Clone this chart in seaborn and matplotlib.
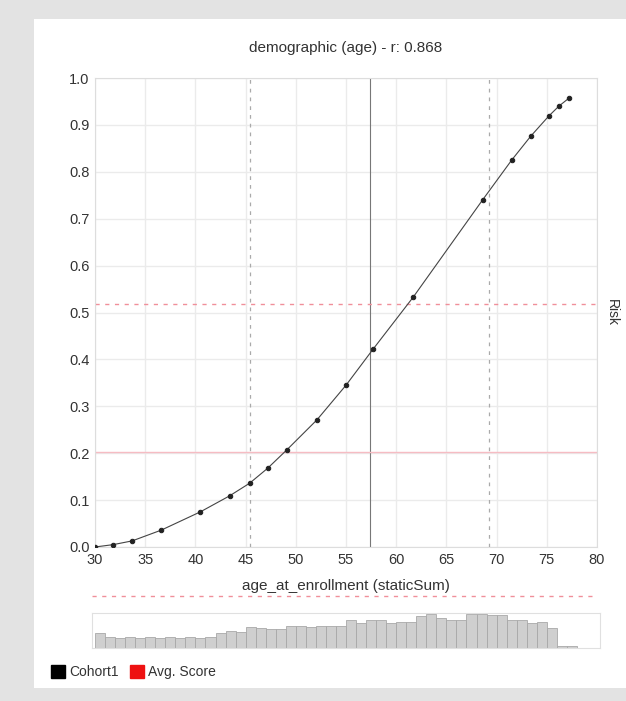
import numpy as np
import pandas as pd
import seaborn as sns
import matplotlib.pyplot as plt
from matplotlib.patches import Patch, Rectangle

# curve points
age = [30.0, 31.8, 33.7, 36.6, 40.5, 43.4, 45.4, 47.2, 49.1, 52.1,
       55.0, 57.7, 61.7, 68.6, 71.5, 73.4, 75.2, 76.2, 77.2]
risk = [0.0, 0.005, 0.013, 0.036, 0.075, 0.109, 0.136, 0.168, 0.207, 0.271,
        0.345, 0.422, 0.533, 0.740, 0.825, 0.876, 0.919, 0.940, 0.957]

# enrolment histogram, one bin per year of age (30..77)
hist_age = list(range(30, 78))
hist_count = [44, 31, 30, 31, 30, 31, 30, 31, 30, 31, 30, 31,
              44, 51, 48, 62, 60, 57, 55, 64, 64, 63, 64, 64, 64,
              83, 74, 83, 83, 74, 78, 78, 93, 100, 89, 83, 83, 100, 100,
              97, 97, 83, 83, 74, 78, 59, 5, 5]

# reference lines
cohort_lo, cohort_mid, cohort_hi = 45.4, 57.4, 69.2
avg_score_dotted, avg_score_solid = 0.518, 0.203

title = "demographic (age) - r: 0.868"
x_label = "age_at_enrollment (staticSum)"
legend_labels = ["Cohort1", "Avg. Score"]

df = pd.DataFrame({"age": age, "risk": risk})
hist_df = pd.DataFrame({"age": [a + 0.5 for a in hist_age], "count": hist_count})

sns.set_theme(style="white")
plt.rcParams["font.family"] = ["Liberation Sans", "DejaVu Sans"]

fig = plt.figure(figsize=(6.26, 7.01), dpi=100)
fig.patch.set_facecolor("#e3e3e3")
fig.add_artist(Rectangle((0.054, 0.0185), 0.946, 0.955, transform=fig.transFigure,
                         facecolor="white", edgecolor="none", zorder=-1))

ax = fig.add_axes([0.1518, 0.2197, 0.8019, 0.669])
ax.set_facecolor("white")

sns.lineplot(data=df, x="age", y="risk", ax=ax, color="#444444", linewidth=0.8,
             marker="o", markersize=3.2, markeredgecolor="#222222",
             markerfacecolor="#222222", zorder=5)

ax.axvline(cohort_lo, color="#aaaaaa", linestyle=(0, (3, 4)), linewidth=0.9)
ax.axvline(cohort_hi, color="#aaaaaa", linestyle=(0, (3, 4)), linewidth=0.9)
ax.axvline(cohort_mid, color="#777777", linewidth=0.8)
ax.axhline(avg_score_dotted, color="#f08f9a", linestyle=(0, (3, 4)), linewidth=1.0)
ax.axhline(avg_score_solid, color="#f6bcc3", linewidth=1.0)

ax.set_xlim(30, 80)
ax.set_ylim(0, 1.0)
ax.set_xticks(np.arange(30, 81, 5))
ax.set_yticks(np.arange(0, 1.01, 0.1))
ax.set_yticklabels([f"{v:.1f}" for v in np.arange(0, 1.01, 0.1)])
ax.grid(True, color="#ebebeb", linewidth=1.0)
ax.tick_params(labelsize=10.5, colors="#333333", length=0, pad=4)
for s in ax.spines.values():
    s.set_color("#dddddd")
    s.set_linewidth(0.8)

ax.set_title(title, fontsize=11, color="#333333", pad=19)
ax.set_xlabel(x_label, fontsize=11, color="#333333", labelpad=9)
ax.set_ylabel("")
ax.text(1.03, 0.5, "Risk", transform=ax.transAxes, rotation=270,
        ha="center", va="center", fontsize=10, color="#333333")

# histogram panel
axh = fig.add_axes([0.147, 0.0756, 0.8115, 0.0499])
sns.histplot(data=hist_df, x="age", weights="count", binwidth=1, binrange=(30, 78),
             ax=axh, color="#cfcfcf", edgecolor="#a8a8a8", linewidth=0.6, alpha=1)
axh.set_xlim(29.7, 80.3)
axh.set_ylim(0, 103)
axh.set_xticks([])
axh.set_yticks([])
axh.set_xlabel("")
axh.set_ylabel("")
for s in axh.spines.values():
    s.set_color("#e0e0e0")
    s.set_linewidth(0.8)
axh.plot([0.0, 0.99], [1.49, 1.49], transform=axh.transAxes, clip_on=False,
         color="#f08f9a", linestyle=(0, (3, 4)), linewidth=1.0)

handles = [Patch(facecolor="black", edgecolor="black"),
           Patch(facecolor="#ee1111", edgecolor="#ee1111")]
fig.legend(handles, legend_labels, loc="center left", bbox_to_anchor=(0.062, 0.041),
           ncol=2, frameon=False, fontsize=10, handlelength=1.0, handleheight=1.0,
           handletextpad=0.3, columnspacing=0.8, labelcolor="#333333")

fig.savefig("out.png", dpi=100)
